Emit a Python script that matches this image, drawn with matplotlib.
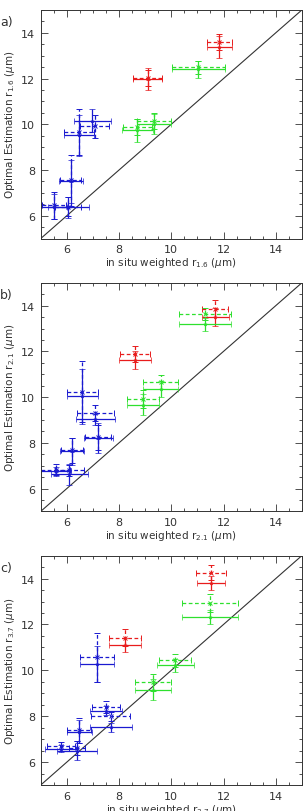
import matplotlib
matplotlib.use("Agg")
import matplotlib.pyplot as plt
from matplotlib.ticker import MultipleLocator

# colours of each point (same order in every list of a panel)
a_col = ['r', 'r', 'g', 'g', 'g', 'b', 'b', 'b', 'b', 'b']
b_col = ['r', 'r', 'g', 'g', 'g', 'b', 'b', 'b', 'b', 'b', 'b']
c_col = ['r', 'r', 'g', 'g', 'g', 'b', 'b', 'b', 'b', 'b', 'b']

# panel a) r1.6 : solid retrieval
a_x = [11.84, 9.09, 11.04, 8.70, 9.34, 6.98, 6.47, 6.15, 5.50, 6.05]
a_y = [13.39, 11.98, 12.40, 9.74, 10.01, 10.15, 9.52, 7.50, 6.40, 6.37]
a_xerr = [0.49, 0.57, 1.00, 0.60, 0.66, 0.72, 0.58, 0.45, 0.50, 0.78]
a_yerr = [0.48, 0.47, 0.36, 0.50, 0.45, 0.50, 0.90, 0.95, 0.55, 0.45]
# panel a) dashed retrieval
a_x2 = [11.84, 9.09, 11.04, 8.70, 9.34, 7.07, 6.47, 6.15, 5.50, 6.05]
a_y2 = [13.61, 12.03, 12.50, 9.87, 10.13, 9.91, 9.66, 7.55, 6.45, 6.40]
a_xerr2 = [0.49, 0.57, 1.00, 0.55, 0.66, 0.55, 0.57, 0.40, 0.45, 0.50]
a_yerr2 = [0.36, 0.35, 0.28, 0.35, 0.35, 0.50, 1.00, 1.12, 0.60, 0.40]

# panel b) r2.1
b_x = [11.69, 8.61, 11.30, 9.60, 8.91, 6.59, 7.09, 7.20, 6.19, 5.57, 6.10]
b_y = [13.51, 11.63, 13.18, 10.36, 9.67, 10.04, 9.03, 8.22, 7.62, 6.75, 6.62]
b_xerr = [0.53, 0.60, 1.00, 0.67, 0.62, 0.60, 0.75, 0.55, 0.45, 0.57, 0.70]
b_yerr = [0.38, 0.40, 0.30, 0.35, 0.47, 1.20, 0.25, 0.65, 0.60, 0.20, 0.45]
b_x2 = [11.69, 8.61, 11.30, 9.60, 8.91, 6.59, 7.09, 7.20, 6.19, 5.57, 6.10]
b_y2 = [13.86, 11.88, 13.64, 10.65, 9.90, 10.24, 9.31, 8.25, 7.67, 6.82, 6.80]
b_xerr2 = [0.50, 0.57, 1.00, 0.67, 0.62, 0.60, 0.72, 0.50, 0.42, 0.55, 0.55]
b_yerr2 = [0.37, 0.36, 0.26, 0.30, 0.39, 1.35, 0.35, 0.55, 0.55, 0.25, 0.25]

# panel c) r3.7
c_x = [11.52, 8.23, 11.49, 10.15, 9.29, 7.14, 7.50, 7.68, 6.47, 5.78, 6.38]
c_y = [13.81, 11.09, 12.32, 10.22, 9.15, 10.27, 8.24, 7.52, 7.32, 6.58, 6.50]
c_xerr = [0.53, 0.60, 1.07, 0.70, 0.68, 0.65, 0.62, 0.80, 0.48, 0.60, 0.76]
c_yerr = [0.30, 0.30, 0.32, 0.28, 0.45, 0.80, 0.20, 0.20, 0.50, 0.15, 0.40]
c_x2 = [11.52, 8.23, 11.49, 10.15, 9.29, 7.14, 7.50, 7.68, 6.47, 5.78, 6.38]
c_y2 = [14.25, 11.43, 12.94, 10.44, 9.47, 10.56, 8.41, 8.00, 7.38, 6.68, 6.62]
c_xerr2 = [0.56, 0.60, 1.07, 0.62, 0.68, 0.65, 0.55, 0.75, 0.45, 0.55, 0.30]
c_yerr2 = [0.33, 0.35, 0.40, 0.28, 0.35, 1.05, 0.25, 0.20, 0.55, 0.20, 0.30]

colmap = {'r': '#e81c1c', 'g': '#2ee02e', 'b': '#1a1ad0'}

panels = [
    ('a)', '1.6', a_col, a_x, a_y, a_xerr, a_yerr, a_x2, a_y2, a_xerr2, a_yerr2),
    ('b)', '2.1', b_col, b_x, b_y, b_xerr, b_yerr, b_x2, b_y2, b_xerr2, b_yerr2),
    ('c)', '3.7', c_col, c_x, c_y, c_xerr, c_yerr, c_x2, c_y2, c_xerr2, c_yerr2),
]

# axes boxes [left, bottom, width, height] in figure fractions
boxes = [
    [0.134, 0.705, 0.859, 0.2815],
    [0.134, 0.369, 0.859, 0.2815],
    [0.134, 0.032, 0.859, 0.2825],
]

fig = plt.figure(figsize=(3.04, 8.12), dpi=100)

for (lab, ch, col, x, y, xe, ye, x2, y2, xe2, ye2), box in zip(panels, boxes):
    ax = fig.add_axes(box)
    ax.plot([5, 15], [5, 15], color='#333333', lw=0.8)
    for i in range(len(x)):
        c = colmap[col[i]]
        eb = ax.errorbar(x2[i], y2[i], xerr=xe2[i], yerr=ye2[i], fmt='x', ms=2.5,
                         color=c, ecolor=c, elinewidth=0.9, capsize=2.5, mew=0.7)
        for lc in eb[2]:
            lc.set_linestyle((0, (3, 2)))
        ax.errorbar(x[i], y[i], xerr=xe[i], yerr=ye[i], fmt='*', ms=2.5,
                    color=c, ecolor=c, elinewidth=0.9, capsize=2.5, mew=0.5)
    ax.set_xlim(5, 15)
    ax.set_ylim(5, 15)
    ax.xaxis.set_major_locator(MultipleLocator(2))
    ax.yaxis.set_major_locator(MultipleLocator(2))
    ax.xaxis.set_minor_locator(MultipleLocator(0.5))
    ax.yaxis.set_minor_locator(MultipleLocator(0.5))
    ax.tick_params(which='both', direction='in', top=True, right=True,
                   labelsize=8, colors='#333333', width=0.6)
    ax.tick_params(which='major', length=5, pad=4)
    ax.tick_params(which='minor', length=2.5)
    for s in ax.spines.values():
        s.set_linewidth(0.7)
        s.set_color('#333333')
    ax.set_xlabel(r'in situ weighted r$_{%s}$ ($\mu$m)' % ch, fontsize=7.5,
                  color='#333333', labelpad=1)
    ax.set_ylabel(r'Optimal Estimation r$_{%s}$ ($\mu$m)' % ch, fontsize=7.5,
                  color='#333333', labelpad=3)
    ax.text(-0.156, 0.95, lab, transform=ax.transAxes, fontsize=9,
            color='#333333', ha='left', va='center')

fig.savefig('out.png', dpi=100)
